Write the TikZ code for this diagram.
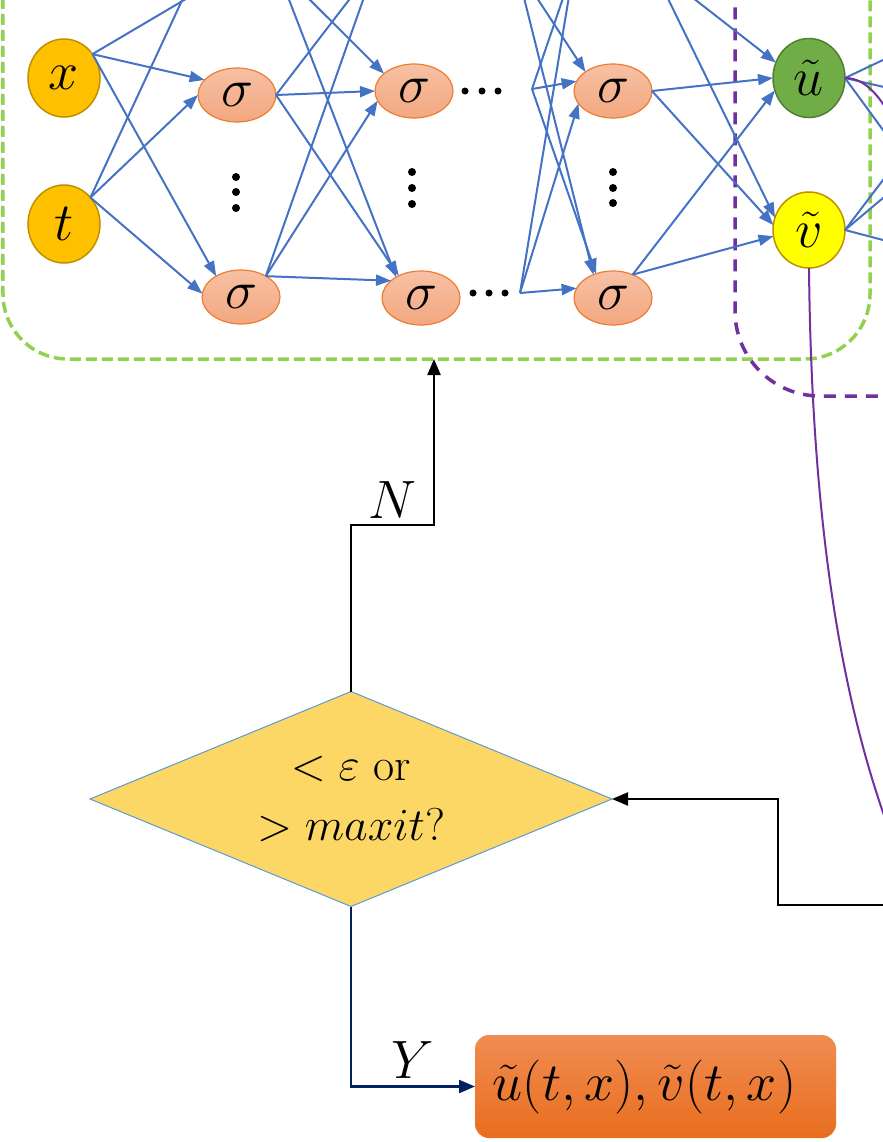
\RequirePackage{fix-cm}
\documentclass[tikz,border=0pt]{standalone}
\usepackage{amsmath}
\usepackage{amssymb}
\usetikzlibrary{arrows.meta,shapes.geometric,positioning}
\definecolor{netblue}{RGB}{68,114,196}
\definecolor{inorange}{RGB}{255,192,0}
\definecolor{inborder}{RGB}{191,144,0}
\definecolor{sigtop}{RGB}{247,192,164}
\definecolor{sigbot}{RGB}{242,168,128}
\definecolor{sigborder}{RGB}{237,125,49}
\definecolor{ugreen}{RGB}{112,173,71}
\definecolor{uborder}{RGB}{80,126,50}
\definecolor{vyellow}{RGB}{255,255,0}
\definecolor{boxgreen}{RGB}{146,208,80}
\definecolor{lossviolet}{RGB}{112,48,160}
\definecolor{decfill}{RGB}{252,215,102}
\definecolor{decborder}{RGB}{91,155,213}
\definecolor{outtop}{RGB}{240,140,82}
\definecolor{outbot}{RGB}{232,110,30}
\definecolor{yesnavy}{RGB}{0,32,96}

\begin{document}
\begin{tikzpicture}[x=1bp,y=-1bp,inner sep=0pt,outer sep=0pt,
  txt/.style={font=\fontsize{54bp}{64bp}\selectfont},
  inpnode/.style={ellipse,draw=inborder,line width=1.5bp,fill=inorange,minimum width=72bp,minimum height=78bp,txt},
  signode/.style={ellipse,draw=sigborder,line width=1.2bp,top color=sigtop,bottom color=sigbot,minimum width=78bp,minimum height=54bp,txt},
  unode/.style={ellipse,draw=uborder,line width=1.5bp,fill=ugreen,minimum width=72bp,minimum height=79bp,txt},
  vnode/.style={ellipse,draw=inborder,line width=1.5bp,fill=vyellow,minimum width=72bp,minimum height=76bp,txt},
  wire/.style={netblue,line width=2bp,-{Triangle[length=15bp,width=11bp]}},
  lossline/.style={lossviolet,line width=2bp},
  flow/.style={line width=2.2bp,-{Triangle[length=16bp,width=13bp]}},
  netbox/.style={draw=boxgreen,line width=3.5bp,dash pattern=on 11bp off 5bp,rounded corners=65bp},
  lossbox/.style={draw=lossviolet,line width=3.5bp,dash pattern=on 12bp off 9bp,rounded corners=85bp},
  decision/.style={diamond,aspect=2.43,draw=decborder,line width=1bp,fill=decfill,minimum width=522bp,minimum height=215bp,align=center,font=\fontsize{46bp}{60bp}\selectfont},
  result/.style={rounded corners=14bp,top color=outtop,bottom color=outbot,minimum width=361bp,minimum height=103bp,txt}
]
  \useasboundingbox (0,0) rectangle (883,1142);
  \clip (0,0) rectangle (883,1142);
  \node[netbox,minimum width=867bp,minimum height=659bp] (net) at (436.5,29.5) {};
  \node[lossbox,minimum width=465bp,minimum height=696bp] (lossgrp) at (967.5,48) {};

  \node[inpnode] (xin) at (64,78) {$x$};
  \node[inpnode] (tin) at (64,224) {$t$};
  \node[signode] (h1a) at (237,-34) {};
  \node[signode] (h1b) at (237,95) {$\sigma$};
  \node[signode] (h1c) at (241,297) {$\sigma$};
  \node[signode] (h2a) at (414,-34) {};
  \node[signode] (h2b) at (414,91) {$\sigma$};
  \node[signode] (h2c) at (421,298) {$\sigma$};
  \node[signode] (h3a) at (613,-34) {};
  \node[signode] (h3b) at (613,91) {$\sigma$};
  \node[signode] (h3c) at (613,298) {$\sigma$};
  \node[unode] (uout) at (809,78) {$\tilde{u}$};
  \node[vnode] (vout) at (809,230) {$\tilde{v}$};
  \coordinate (e2a) at (516,-34);
  \coordinate (e2b) at (532,89);
  \coordinate (e2c) at (520,293);

  \foreach \yy in {177,192,208} \fill (236,\yy) circle (4bp);
  \foreach \yy in {172,188,204} \fill (412,\yy) circle (4bp);
  \foreach \yy in {172,188,203} \fill (613,\yy) circle (4bp);
  \foreach \xx in {465,482,498} \fill (\xx,91) circle (3.5bp);
  \foreach \xx in {473,489,505} \fill (\xx,293) circle (3.5bp);

  \foreach \src/\dst in {xin.40/h1a.south west,xin.40/h1b.155,xin.40/h1c.140,tin.45/h1a.west,tin.45/h1b.west,tin.45/h1c.175,
    h1a.east/h2b.150,h1a.east/h2c.140,h1b.east/h2a.west,h1b.east/h2b.west,h1b.east/h2c.135,h1c.40/h2a.west,h1c.40/h2b.195,h1c.40/h2c.150,
    e2a/h3a.west,e2a/h3b.north west,e2a/h3c.130,e2b/h3a.west,e2b/h3b.165,e2b/h3c.125,e2c/h3a.west,e2c/h3b.200,e2c/h3c.165,
    h3a.east/uout.155,h3b.east/uout.west,h3c.50/uout.200,h3a.east/vout.160,h3b.east/vout.172,h3c.50/vout.190}
    \draw[wire] (\src) -- (\dst);

  \coordinate (du1) at (940,33);
  \coordinate (du2) at (940,100);
  \coordinate (du3) at (940,208);
  \coordinate (dv1) at (940,105);
  \coordinate (dv2) at (940,150);
  \coordinate (dv3) at (940,255);
  \foreach \src/\dst in {uout.east/du1,uout.east/du2,uout.east/du3,vout.east/dv1,vout.east/dv2,vout.east/dv3}
    \draw[wire] (\src) -- (\dst);
  \draw[lossline] (uout.east) .. controls (868,78) and (888,100) .. (915,170);
  \draw[lossline] (vout.south) .. controls (812,560) and (850,740) .. (905,870);

  \node[decision] (dec) at (351,799) {$<\varepsilon$ or\\$>maxit?$};
  \node[result] (res) at (655.5,1086.5) {$\tilde{u}(t,x),\tilde{v}(t,x)$\hspace*{22bp}};
  \coordinate (nmid) at (434,525);
  \coordinate (lossin) at (940,905);
  \coordinate (back) at (778,905);

  \draw[flow] (dec.north) |- (nmid) node[pos=0.75,above=7bp,txt] {$N$} -- (nmid |- net.south);
  \draw[flow] (lossin) -- (back) |- (dec.east);
  \draw[flow,yesnavy] (dec.south) |- (res.west) node[pos=0.75,above=8bp,txt,black] {$Y$};
\end{tikzpicture}
\end{document}
